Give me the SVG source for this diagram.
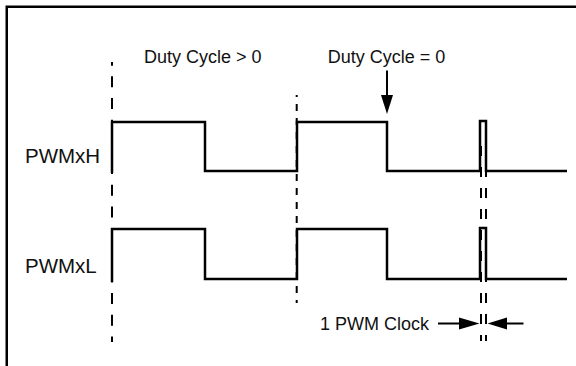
<svg xmlns="http://www.w3.org/2000/svg" width="576" height="366" viewBox="0 0 576 366">
  <style>
    .lbl { font-family: "Liberation Sans", Arial, sans-serif; font-size: 18px; fill: #111; }
    .sig { font-family: "Liberation Sans", Arial, sans-serif; font-size: 20.5px; fill: #111; }
    .wave { fill: none; stroke: #000; stroke-width: 2.5; stroke-linejoin: miter; stroke-linecap: butt; }
    .frame { fill: none; stroke: #000; stroke-width: 2.5; }
    .dashA { stroke: #000; stroke-width: 2; stroke-dasharray: 11 10.67; }
    .dashB { stroke: #000; stroke-width: 2; stroke-dasharray: 7 7; }
    .dashC { stroke: #000; stroke-width: 2; stroke-dasharray: 10 11; }
    .shaft { stroke: #000; stroke-width: 2; }
    .head { fill: #000; stroke: none; }
  </style>
  <rect width="576" height="366" fill="#fff"/>
  <g id="frame">
    <path class="frame" d="M6.75,366 V6.75 H576"/>
  </g>
  <g id="connectors">
    <line class="dashA" x1="112" y1="62" x2="112" y2="342" stroke-dashoffset="7.3"/>
    <line class="dashB" x1="296.7" y1="95" x2="296.7" y2="303" stroke-dashoffset="5"/>
    <line class="dashC" x1="481" y1="146" x2="481" y2="341"/>
    <line class="dashC" x1="486" y1="146" x2="486" y2="341"/>
    <line class="shaft" x1="387" y1="70.5" x2="387" y2="96"/>
    <polygon class="head" points="381,95 393,95 387,114"/>
    <line class="shaft" x1="438" y1="323.5" x2="460" y2="323.5"/>
    <polygon class="head" points="459,317.5 459,329.5 479.5,323.5"/>
    <line class="shaft" x1="506" y1="323.5" x2="523.5" y2="323.5"/>
    <polygon class="head" points="507,317.5 507,329.5 487.5,323.5"/>
  </g>
  <g id="pwmxh">
    <path class="wave" d="M112,173 V122 H205 V171 H297 V122 H387 V171 H480 V121 H486 V171 H567"/>
    <text class="sig" x="25" y="163.3">PWMxH</text>
  </g>
  <g id="pwmxl">
    <path class="wave" d="M112,282 V229 H205 V279 H297 V229 H387 V279 H480 V228 H486 V279 H567"/>
    <text class="sig" x="25" y="273.3">PWMxL</text>
  </g>
  <g id="label-duty-gt">
    <text class="lbl" x="144" y="62.7">Duty Cycle &gt; 0</text>
  </g>
  <g id="label-duty-eq">
    <text class="lbl" x="327.7" y="63">Duty Cycle = 0</text>
  </g>
  <g id="label-clock">
    <text class="lbl" x="320" y="329.5">1 PWM Clock</text>
  </g>
</svg>
